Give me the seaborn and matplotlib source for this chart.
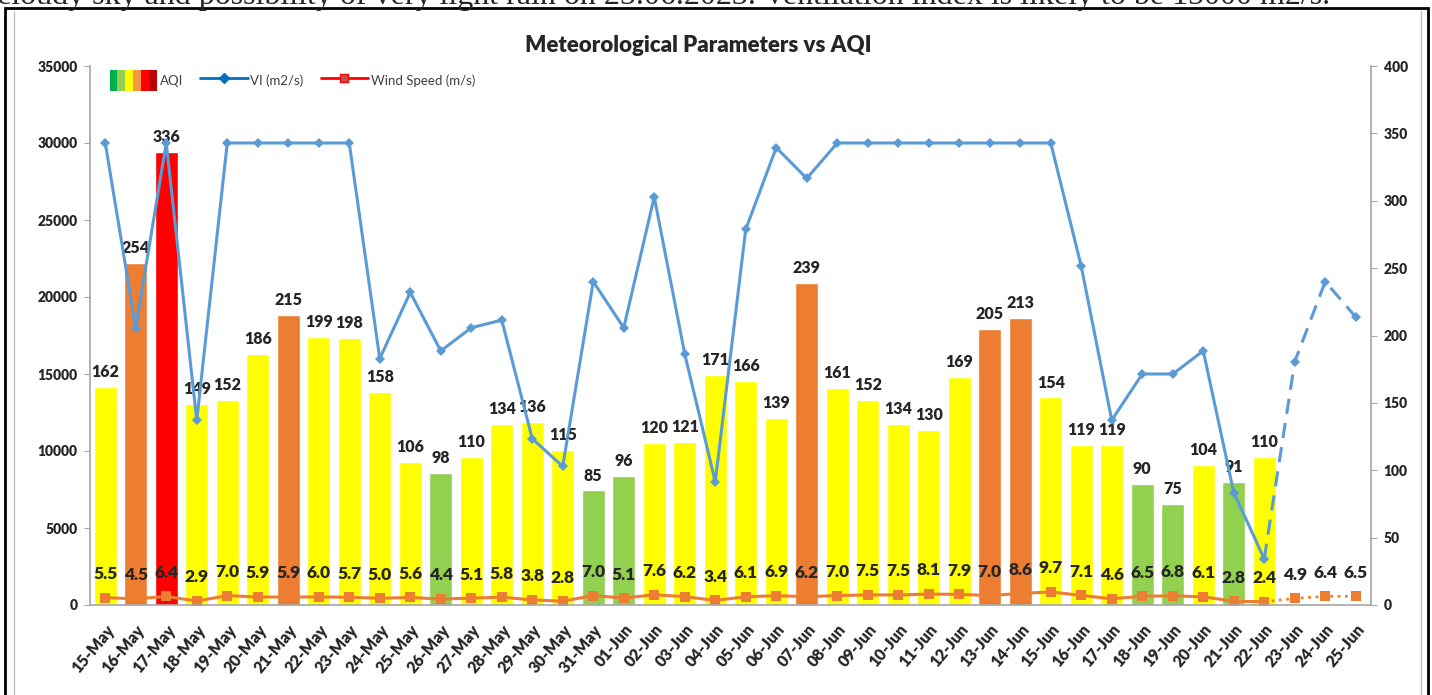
import numpy as np
import pandas as pd
import matplotlib
matplotlib.use("Agg")
import matplotlib.pyplot as plt
import seaborn as sns
from matplotlib.patches import Patch, Rectangle
from matplotlib.lines import Line2D
from matplotlib.legend_handler import HandlerTuple

# -------------------------------
# Data
# -------------------------------
dates = [
    '15-May', '16-May', '17-May', '18-May', '19-May', '20-May', '21-May',
    '22-May', '23-May', '24-May', '25-May', '26-May', '27-May', '28-May',
    '29-May', '30-May', '31-May', '01-Jun', '02-Jun', '03-Jun', '04-Jun',
    '05-Jun', '06-Jun', '07-Jun', '08-Jun', '09-Jun', '10-Jun', '11-Jun',
    '12-Jun', '13-Jun', '14-Jun', '15-Jun', '16-Jun', '17-Jun', '18-Jun',
    '19-Jun', '20-Jun', '21-Jun', '22-Jun', '23-Jun', '24-Jun', '25-Jun',
]

# observed AQI (15-May .. 22-Jun)
aqi = [
    162, 254, 336, 149, 152, 186, 215, 199, 198, 158, 106, 98, 110, 134,
    136, 115, 85, 96, 120, 121, 171, 166, 139, 239, 161, 152, 134, 130,
    169, 205, 213, 154, 119, 119, 90, 75, 104, 91, 110,
]

# ventilation index (m2/s), last three days are forecast
vi = [
    30000, 18000, 30000, 12000, 30000, 30000, 30000, 30000, 30000, 16000,
    20300, 16500, 18000, 18500, 10800, 9000, 21000, 18000, 26500, 16300,
    8000, 24400, 29700, 27700, 30000, 30000, 30000, 30000, 30000, 30000,
    30000, 30000, 22000, 12000, 15000, 15000, 16500, 7300, 3000, 15800,
    21000, 18700,
]

# wind speed (m/s), last three days are forecast
wind = [
    5.5, 4.5, 6.4, 2.9, 7.0, 5.9, 5.9, 6.0, 5.7, 5.0, 5.6, 4.4, 5.1, 5.8,
    3.8, 2.8, 7.0, 5.1, 7.6, 6.2, 3.4, 6.1, 6.9, 6.2, 7.0, 7.5, 7.5, 8.1,
    7.9, 7.0, 8.6, 9.7, 7.1, 4.6, 6.5, 6.8, 6.1, 2.8, 2.4, 4.9, 6.4, 6.5,
]

band_names = ['Satisfactory', 'Moderate', 'Poor', 'Very Poor']
band_colors = {'Satisfactory': '#92D050', 'Moderate': '#FFFF00',
               'Poor': '#ED7D31', 'Very Poor': '#FF0000'}
legend_aqi_colors = ['#00B050', '#92D050', '#FFFF00', '#F79646', '#FF0000', '#C00000']


def aqi_band(v):
    if v <= 100:
        return 'Satisfactory'
    if v <= 200:
        return 'Moderate'
    if v <= 300:
        return 'Poor'
    return 'Very Poor'


df_aqi = pd.DataFrame({'date': dates[:len(aqi)], 'aqi': aqi})
df_aqi['band'] = df_aqi['aqi'].apply(aqi_band)

pos = np.arange(len(dates))
n_obs = len(aqi)

# -------------------------------
# Style
# -------------------------------
sns.set_style("white")
plt.rcParams['font.family'] = ['Lato', 'DejaVu Sans']
plt.rcParams['font.weight'] = 'heavy'
lab_w = 'heavy'

fig = plt.figure(figsize=(14.32, 6.95), dpi=100)
ax = fig.add_axes([90 / 1432, 90 / 695, 1281 / 1432, 539 / 695])

# -------------------------------
# AQI bars + wind speed (right axis scale 0-400)
# -------------------------------
sns.barplot(data=df_aqi, x='date', y='aqi', hue='band', order=dates,
            hue_order=band_names, palette=band_colors, dodge=False,
            width=0.77, saturation=1, legend=False, ax=ax)

for i, v in enumerate(aqi):
    ax.annotate(str(v), (i, v), xytext=(0, 5), textcoords='offset points',
                ha='center', va='bottom', fontsize=11.5, fontweight=lab_w)

wind_col = '#ED7D31'
sns.lineplot(x=pos[:n_obs], y=wind[:n_obs], ax=ax, color=wind_col, lw=2.2,
             marker='s', markersize=7, markeredgewidth=0)
sns.lineplot(x=pos[n_obs - 1:], y=wind[n_obs - 1:], ax=ax, color=wind_col,
             lw=2, ls=':', marker='s', markersize=7, markeredgewidth=0)

for i, w in enumerate(wind):
    ax.annotate(f"{w:.1f}", (i, w), xytext=(0, 17), textcoords='offset points',
                ha='center', va='center', fontsize=12.5, fontweight=lab_w)

ax.set_ylim(0, 400)
ax.set_yticks(np.arange(0, 401, 50))
ax.set_xlim(-0.5, len(dates) - 0.5)
ax.set_xlabel('')
ax.set_ylabel('')

# -------------------------------
# Ventilation index (left axis scale 0-35000)
# -------------------------------
ax2 = ax.twinx()
vi_col = '#5B9BD5'
sns.lineplot(x=pos[:n_obs], y=vi[:n_obs], ax=ax2, color=vi_col, lw=2.2,
             marker='D', markersize=5, markeredgewidth=0)
sns.lineplot(x=pos[n_obs - 1:], y=vi[n_obs - 1:], ax=ax2, color=vi_col,
             lw=2.2, ls=(0, (5, 3)), marker='D', markersize=5, markeredgewidth=0)
ax2.set_ylim(0, 35000)
ax2.set_yticks(np.arange(0, 35001, 5000))
ax2.set_ylabel('')

# swap sides: VI on the left, AQI on the right
ax2.yaxis.set_ticks_position('left')
ax.yaxis.set_ticks_position('right')

axis_grey = '#A6A6A6'
for a in (ax, ax2):
    for s in a.spines.values():
        s.set_visible(False)
for s in ('bottom', 'left', 'right'):
    ax.spines[s].set_visible(True)
    ax.spines[s].set_color(axis_grey)
    ax.spines[s].set_linewidth(1.2)

ax.tick_params(axis='y', direction='out', length=4, color=axis_grey,
               labelsize=10, pad=5, right=True, left=False)
ax2.tick_params(axis='y', direction='out', length=4, color=axis_grey,
                labelsize=10, pad=5, left=True, right=False)

ax.set_xticks(pos)
ax.set_xticklabels(dates, rotation=50, ha='right', rotation_mode='anchor',
                   fontsize=11.5, fontweight=lab_w)
ax.set_xticks(np.arange(-0.5, len(dates), 1), minor=True)
ax.tick_params(axis='x', which='major', length=0, pad=12)
ax.tick_params(axis='x', which='minor', length=6, color=axis_grey, direction='out')

for lab in ax.get_yticklabels() + ax2.get_yticklabels():
    lab.set_fontweight(lab_w)

# -------------------------------
# Legend
# -------------------------------
handles = [
    tuple(Patch(fc=c, ec='none') for c in legend_aqi_colors),
    Line2D([], [], color='#0070C0', lw=2, marker='D', markersize=5),
    Line2D([], [], color='#FF0000', lw=2, marker='s', markersize=6,
           markerfacecolor='#C0504D', markeredgecolor='#FF0000'),
]
ax2.legend(handles, ['AQI', 'VI (m2/s)', 'Wind Speed (m/s)'],
           handler_map={tuple: HandlerTuple(ndivide=None, pad=0)},
           loc='upper left', bbox_to_anchor=(0.006, 1.014), ncol=3,
           frameon=False, labelcolor='#404040',
           handlelength=3.6, handleheight=2.0, handletextpad=0.2,
           columnspacing=1.3, prop={'weight': 'normal', 'size': 9.5})

# -------------------------------
# Title, frame and clipped page text
# -------------------------------
fig.text(698 / 1432, 1 - 45 / 695, 'Meteorological Parameters vs AQI',
         ha='center', va='center', fontsize=16, fontweight='heavy')

fig.text(-0.002, 1 - 4 / 695,
         'cloudy sky and possibility of very light rain on 25.06.2023. '
         'Ventilation index is likely to be 15000 m2/s.',
         ha='left', va='baseline', fontsize=23, fontweight='normal',
         family=['Liberation Serif', 'DejaVu Serif'])

fig.add_artist(Rectangle((5 / 1432, -0.02), 1423 / 1432, 1 - 8 / 695 + 0.02,
                         transform=fig.transFigure, fill=False,
                         ec='black', lw=2))
fig.add_artist(Line2D([14 / 1432, 14 / 1432], [0, 1 - 11 / 695],
                      transform=fig.transFigure, color='#BFBFBF', lw=1))
fig.add_artist(Line2D([1421 / 1432, 1421 / 1432], [0, 1 - 11 / 695],
                      transform=fig.transFigure, color='#BFBFBF', lw=1))

fig.savefig("out.png", dpi=100)
